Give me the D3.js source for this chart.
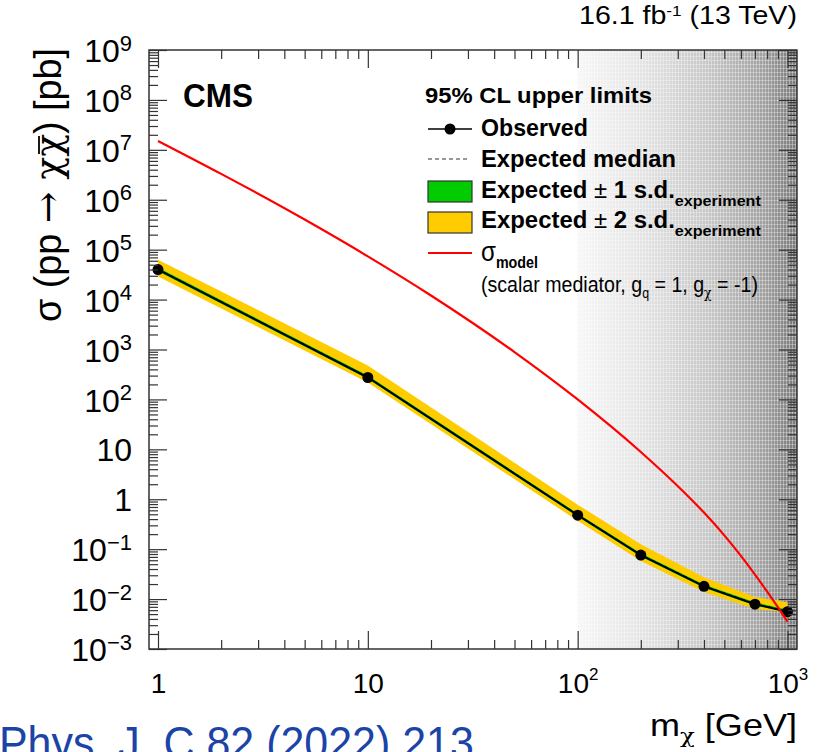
<!DOCTYPE html>
<html>
<head>
<meta charset="utf-8">
<script src="https://cdn.jsdelivr.net/npm/d3@7"></script>
<style>
body{margin:0;background:#fff;}
svg{display:block;}
</style>
</head>
<body>
<svg id="chart" width="834" height="752"></svg>
<script>
// limits vs dark matter mass [GeV], cross sections in pb
var massPoints=[1,10,100,200,400,700,1000];
var observed=[4.0e4,275,0.48,0.076,0.018,0.0079,0.0056];
var expected=[4.1e4,282,0.49,0.078,0.0185,0.0081,0.0058];
var exp1Up=[4.4e4,300,0.52,0.083,0.0196,0.0086,0.0062];
var exp1Dn=[3.7e4,258,0.45,0.071,0.0168,0.0074,0.0055];
var exp2Up=[6.3e4,480,0.78,0.125,0.0275,0.0110,0.0086];
var exp2Dn=[2.9e4,219,0.37,0.058,0.0138,0.0063,0.0055];

// theory curve (scalar mediator)
var modelMass=[1,2,5,10,20,50,100,200,316,400,500,600,700,800,900,1000];
var modelXsec=[1.51e7,3.30e6,4.01e5,7.35e4,1.21e4,889,100,8.85,1.48,0.540,0.189,0.0733,0.0309,0.0141,0.00687,0.00352];

var xTickVals=[1,10,100,1000];
var xTickLabels=["1","10","10^2","10^3"];
var yTickVals=[1e-3,1e-2,1e-1,1,10,1e2,1e3,1e4,1e5,1e6,1e7,1e8,1e9];
var yTickLabels=["10^\u22123","10^\u22122","10^\u22121","1","10","10^2","10^3","10^4","10^5","10^6","10^7","10^8","10^9"];

var FONT='"Liberation Sans",Arial,Helvetica,sans-serif';
var GREEK='"DejaVu Serif",serif';
var frame={left:149,right:797,top:50,bottom:649};

var svg=d3.select("#chart").attr("font-family",FONT);
svg.append("rect").attr("width",834).attr("height",752).attr("fill","#fff");

var x=d3.scaleLog().domain([0.906,1110]).range([frame.left,frame.right]);
var y=d3.scaleLog().domain([1e-3,1e9]).range([frame.bottom,frame.top]);

var defs=svg.append("defs");
var grad=defs.append("linearGradient").attr("id","shade").attr("x1",0).attr("x2",1).attr("y1",0).attr("y2",0);
[[0,"#f7f7f7"],[0.3,"#e3e3e3"],[0.6,"#c6c6c6"],[0.85,"#a0a0a0"],[1,"#787878"]].forEach(function(s){
    grad.append("stop").attr("offset",s[0]).attr("stop-color",s[1]);
});
var pat=defs.append("pattern").attr("id","dith").attr("width",3).attr("height",4).attr("patternUnits","userSpaceOnUse");
pat.append("rect").attr("x",0).attr("y",0).attr("width",1).attr("height",4).attr("fill","#fff").attr("opacity",0.35);
pat.append("rect").attr("x",0).attr("y",0).attr("width",3).attr("height",1).attr("fill","#fff").attr("opacity",0.3);

// excluded-region shading from 100 GeV upwards
svg.append("rect").attr("x",x(100)).attr("y",frame.top)
    .attr("width",frame.right-x(100)).attr("height",frame.bottom-frame.top)
    .attr("fill","url(#shade)");
svg.append("rect").attr("x",x(100)).attr("y",frame.top)
    .attr("width",frame.right-x(100)).attr("height",frame.bottom-frame.top)
    .attr("fill","url(#dith)");

var plot=svg.append("g");
var idx=d3.range(massPoints.length);

function band(up,dn){
    return d3.area().x(function(i){return x(massPoints[i]);})
        .y0(function(i){return y(dn[i]);}).y1(function(i){return y(up[i]);})(idx);
}
plot.append("path").attr("d",band(exp2Up,exp2Dn)).attr("fill","#ffcc00");
plot.append("path").attr("d",band(exp1Up,exp1Dn)).attr("fill","#00cc00");

var lineOf=function(vals){
    return d3.line().x(function(i){return x(massPoints[i]);}).y(function(i){return y(vals[i]);})(idx);
};
plot.append("path").attr("d",lineOf(expected)).attr("fill","none")
    .attr("stroke","#000").attr("stroke-width",1).attr("stroke-dasharray","4,3");
plot.append("path").attr("d",lineOf(observed)).attr("fill","none")
    .attr("stroke","#000").attr("stroke-width",2);
plot.selectAll("circle.obs").data(idx).enter().append("circle").attr("class","obs")
    .attr("cx",function(i){return x(massPoints[i]);})
    .attr("cy",function(i){return y(observed[i]);})
    .attr("r",5.5).attr("fill","#000");

plot.append("path")
    .attr("d",d3.line().curve(d3.curveMonotoneX)
        .x(function(d,i){return x(modelMass[i]);}).y(function(d){return y(d);})(modelXsec))
    .attr("fill","none").attr("stroke","#ff0000").attr("stroke-width",2.2);

// axes, ROOT style: ticks inside on all four sides
function minorTicks(lo,hi){
    var out=[];
    for(var e=lo;e<=hi;e++){
        for(var m=2;m<=9;m++){out.push(m*Math.pow(10,e));}
    }
    return out;
}
var xMinor=minorTicks(0,2).filter(function(v){return v<1110;});
var yMinor=minorTicks(-3,8);
var noLabel=function(){return "";};

function styleAxis(g){
    g.select(".domain").remove();
    g.attr("color","#333").attr("font-family",FONT).selectAll("line").attr("stroke-width",1.2);
}
function supLabel(t,label,supSize,rise){
    var parts=label.split("^");
    t.text(null);
    t.append("tspan").text(parts[0]);
    if(parts.length>1){
        t.append("tspan").attr("font-size",supSize).attr("dy",-rise).text(parts[1]);
    }
}

var gx=svg.append("g").attr("transform","translate(0,"+frame.bottom+")")
    .call(d3.axisBottom(x).tickValues(xTickVals).tickSizeInner(-18).tickSizeOuter(0)
        .tickFormat(function(d,i){return xTickLabels[i];}));
styleAxis(gx);
gx.attr("font-size",28).selectAll(".tick text").attr("y",44).attr("dy",null).attr("fill","#000")
    .each(function(d,i){supLabel(d3.select(this),xTickLabels[i],17,13);});
styleAxis(svg.append("g").attr("transform","translate(0,"+frame.bottom+")")
    .call(d3.axisBottom(x).tickValues(xMinor).tickSizeInner(-9).tickSizeOuter(0).tickFormat(noLabel)));
styleAxis(svg.append("g").attr("transform","translate(0,"+frame.top+")")
    .call(d3.axisBottom(x).tickValues(xTickVals).tickSizeInner(18).tickSizeOuter(0).tickFormat(noLabel)));
styleAxis(svg.append("g").attr("transform","translate(0,"+frame.top+")")
    .call(d3.axisBottom(x).tickValues(xMinor).tickSizeInner(9).tickSizeOuter(0).tickFormat(noLabel)));

var gy=svg.append("g").attr("transform","translate("+frame.left+",0)")
    .call(d3.axisLeft(y).tickValues(yTickVals).tickSizeInner(-18).tickSizeOuter(0).tickPadding(17)
        .tickFormat(function(d,i){return yTickLabels[i];}));
styleAxis(gy);
gy.attr("font-size",32).selectAll(".tick text").attr("y",11.6).attr("dy",null).attr("fill","#000")
    .each(function(d,i){supLabel(d3.select(this),yTickLabels[i],22,11.6);});
styleAxis(svg.append("g").attr("transform","translate("+frame.left+",0)")
    .call(d3.axisLeft(y).tickValues(yMinor).tickSizeInner(-9).tickSizeOuter(0).tickFormat(noLabel)));
styleAxis(svg.append("g").attr("transform","translate("+frame.right+",0)")
    .call(d3.axisLeft(y).tickValues(yTickVals).tickSizeInner(18).tickSizeOuter(0).tickFormat(noLabel)));
styleAxis(svg.append("g").attr("transform","translate("+frame.right+",0)")
    .call(d3.axisLeft(y).tickValues(yMinor).tickSizeInner(9).tickSizeOuter(0).tickFormat(noLabel)));

svg.append("rect").attr("x",frame.left).attr("y",frame.top)
    .attr("width",frame.right-frame.left).attr("height",frame.bottom-frame.top)
    .attr("fill","none").attr("stroke","#333").attr("stroke-width",1.5);

// text squeezed/stretched horizontally to the width it has in the original
function fitText(parent,px,py,width,anchor,build){
    var g=parent.append("g").attr("transform","translate("+px+","+py+")");
    var inner=g.append("g");
    var t=inner.append("text").attr("fill","#000");
    build(t);
    var w=t.node().getComputedTextLength();
    inner.attr("transform","scale("+(width/w)+",1)");
    if(anchor==="end"){t.attr("x",-w);}
    return {text:t,inner:inner,w:w};
}

fitText(svg,183,107,70,"start",function(t){
    t.attr("font-size",33).attr("font-weight","bold").text("CMS");
});
fitText(svg,797,24,218,"end",function(t){
    t.attr("font-size",25);
    t.append("tspan").text("16.1 fb");
    t.append("tspan").attr("font-size",15).attr("dy",-8).text("-1");
    t.append("tspan").attr("dy",8).text(" (13 TeV)");
});
fitText(svg,797,735.5,147,"end",function(t){
    t.attr("font-size",31);
    t.append("tspan").text("m");
    t.append("tspan").attr("font-size",21).attr("font-family",GREEK).attr("dy",7).text("\u03c7");
    t.append("tspan").attr("dy",-7).text(" [GeV]");
});

// y title, rotated, with a bar over the second chi
var yTitle=svg.append("g").attr("transform","translate(61,48) rotate(-90)");
var yt=fitText(yTitle,0,0,274,"end",function(t){
    t.attr("font-size",38);
    t.append("tspan").text("\u03c3 (pp ");
    t.append("tspan").attr("font-family",GREEK).text("\u2192 \u03c7\u03c7");
    t.append("tspan").text(") [pb]");
});
var chiBox=yt.text.node().getExtentOfChar(9);
yt.inner.append("line").attr("x1",chiBox.x+3).attr("x2",chiBox.x+chiBox.width-2)
    .attr("y1",-22).attr("y2",-22).attr("stroke","#000").attr("stroke-width",1.8);

// legend
var leg=svg.append("g");
fitText(leg,425,103,227,"start",function(t){
    t.attr("font-size",22).attr("font-weight","bold").text("95% CL upper limits");
});
leg.append("line").attr("x1",428).attr("x2",472).attr("y1",129).attr("y2",129).attr("stroke","#000").attr("stroke-width",1.5);
leg.append("circle").attr("cx",450).attr("cy",129).attr("r",5.5).attr("fill","#000");
fitText(leg,481,135.5,107,"start",function(t){
    t.attr("font-size",23).attr("font-weight","bold").text("Observed");
});
leg.append("line").attr("x1",428).attr("x2",470).attr("y1",159).attr("y2",159)
    .attr("stroke","#333").attr("stroke-width",1).attr("stroke-dasharray","4,3");
fitText(leg,481,166.5,195,"start",function(t){
    t.attr("font-size",23).attr("font-weight","bold").text("Expected median");
});
leg.append("rect").attr("x",428).attr("y",181).attr("width",44).attr("height",21)
    .attr("fill","#00cc00").attr("stroke","#333").attr("stroke-width",1.2);
leg.append("rect").attr("x",428).attr("y",212).attr("width",44).attr("height",21)
    .attr("fill","#ffcc00").attr("stroke","#333").attr("stroke-width",1.2);
[["1",197.5],["2",227.5]].forEach(function(e){
    fitText(leg,481,e[1],280,"start",function(t){
        t.attr("font-size",23).attr("font-weight","bold");
        t.append("tspan").text("Expected ");
        t.append("tspan").attr("font-weight","normal").text("\u00b1");
        t.append("tspan").text(" "+e[0]+" s.d.");
        t.append("tspan").attr("font-size",15.5).attr("dy",8.5).text("experiment");
    });
});
leg.append("line").attr("x1",428).attr("x2",472).attr("y1",253).attr("y2",253).attr("stroke","#ff0000").attr("stroke-width",2.2);
fitText(leg,481,260.5,57,"start",function(t){
    t.attr("font-size",27);
    t.append("tspan").text("\u03c3");
    t.append("tspan").attr("font-size",16).attr("font-weight","bold").attr("dy",7.5).text("model");
});
fitText(leg,481,291.5,277,"start",function(t){
    t.attr("font-size",22);
    t.append("tspan").text("(scalar mediator, g");
    t.append("tspan").attr("font-size",14).attr("dy",6).text("q");
    t.append("tspan").attr("dy",-6).text(" = 1, g");
    t.append("tspan").attr("font-size",14).attr("font-family",GREEK).attr("dy",6).text("\u03c7");
    t.append("tspan").attr("dy",-6).text(" = -1)");
});

// journal reference, partly cut off at the page edge
var cg=svg.append("g").attr("transform","translate(474,759)");
var ci=cg.append("g");
var ct=ci.append("text").attr("font-size",47).attr("fill","#1b44a6").text("Eur. Phys. J. C 82 (2022) 213");
var cw=ct.node().getComputedTextLength();
var cs=ct.node().getSubStringLength(5,24);
ci.attr("transform","scale("+(475/cs)+",1)");
ct.attr("x",-cw);
</script>
</body>
</html>
